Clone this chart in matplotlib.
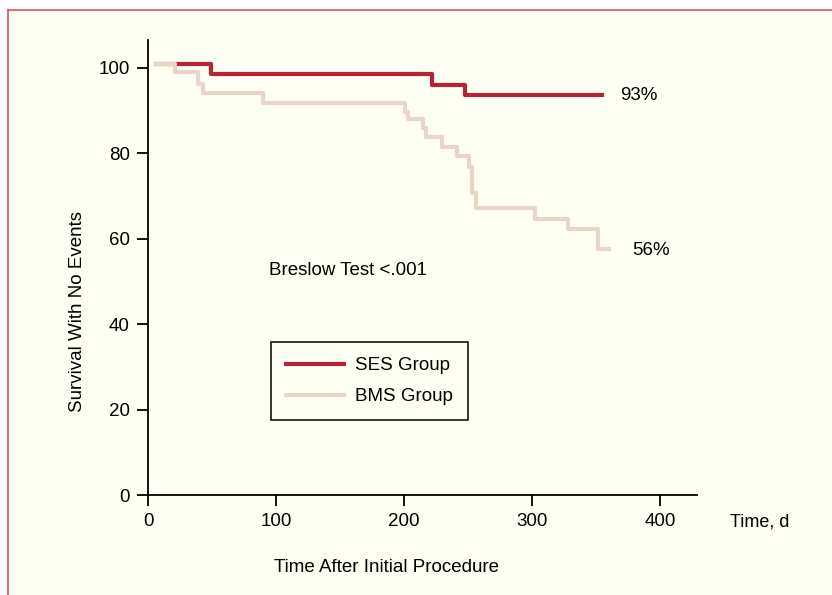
import matplotlib
matplotlib.use("Agg")
import matplotlib.pyplot as plt
from matplotlib.lines import Line2D
from matplotlib.patches import Rectangle

plt.rcParams['font.family'] = ['Liberation Sans', 'DejaVu Sans']

# data (days, % survival)
ses_t = [6, 49, 221.6, 247.7, 354.7]
ses_s = [100.9, 98.5, 96.0, 93.6, 93.6]

bms_t = [6, 21, 39, 42.7, 90, 200.8, 203, 215, 217, 230, 241.6, 251, 253.4, 256, 302, 328.4, 351.8, 360.4]
bms_s = [100.9, 98.9, 96.3, 94.0, 91.7, 89.7, 88.0, 85.9, 83.8, 81.4, 79.3, 76.7, 70.6, 67.1, 64.5, 62.2, 57.5, 57.5]

xticks = [0, 100, 200, 300, 400]
yticks = [0, 20, 40, 60, 80, 100]

red = '#b42432'
beige = '#e9d6c6'
cream = '#fffff3'

W, H = 832, 595
fig = plt.figure(figsize=(W / 100, H / 100), dpi=100, facecolor='white')

# cream panel with thin red frame on left and top
fig.add_artist(Rectangle((8 / W, 0), 1, 1 - 10 / H, transform=fig.transFigure,
                         facecolor=cream, edgecolor='none', zorder=0))
fig.add_artist(Line2D([8 / W, 8 / W], [0, 1 - 10 / H], transform=fig.transFigure,
                      color='#d8505c', lw=1.2))
fig.add_artist(Line2D([8 / W, 1], [1 - 10 / H, 1 - 10 / H], transform=fig.transFigure,
                      color='#d8505c', lw=1.2))

ax = fig.add_axes([148 / W, 100 / H, (696.7 - 148) / W, (495 - 40) / H])
ax.set_facecolor('none')

ax.step(ses_t, ses_s, where='post', color=red, lw=3, label='SES Group', zorder=3)
ax.step(bms_t, bms_s, where='post', color=beige, lw=3, label='BMS Group', zorder=4)

ax.set_xlim(0, 428.7)
ax.set_ylim(0, 106.5)
ax.set_xticks(xticks)
ax.set_yticks(yticks)
ax.spines['top'].set_visible(False)
ax.spines['right'].set_visible(False)
for s in ['left', 'bottom']:
    ax.spines[s].set_linewidth(1.3)
ax.tick_params(direction='out', length=8, width=1.3, labelsize=13.5, pad=5)

ax.set_ylabel('Survival With No Events', fontsize=13.5)
ax.yaxis.set_label_coords(86 / W, 1 - 312 / H, transform=fig.transFigure)

fig.text(387 / W, 1 - 567 / H, 'Time After Initial Procedure', fontsize=13.5,
         ha='center', va='center')
fig.text(730 / W, 1 - 522 / H, 'Time, d', fontsize=13, ha='left', va='center')
fig.text(620 / W, 1 - 95 / H, '93%', fontsize=13.5, ha='left', va='center')
fig.text(632 / W, 1 - 250 / H, '56%', fontsize=13.5, ha='left', va='center')
fig.text(269 / W, 1 - 271 / H, 'Breslow Test <.001', fontsize=13.5, ha='left', va='center')

leg = ax.legend(loc='upper left', bbox_to_anchor=(271 / W, 1 - 342 / H),
                bbox_transform=fig.transFigure, borderaxespad=0, fancybox=False,
                edgecolor='black', facecolor=cream, framealpha=1, fontsize=13.5,
                handlelength=3.1, handletextpad=0.6, borderpad=0.8, labelspacing=0.75)
leg.get_frame().set_linewidth(1.1)

fig.savefig('out.png', dpi=100, facecolor='white')
